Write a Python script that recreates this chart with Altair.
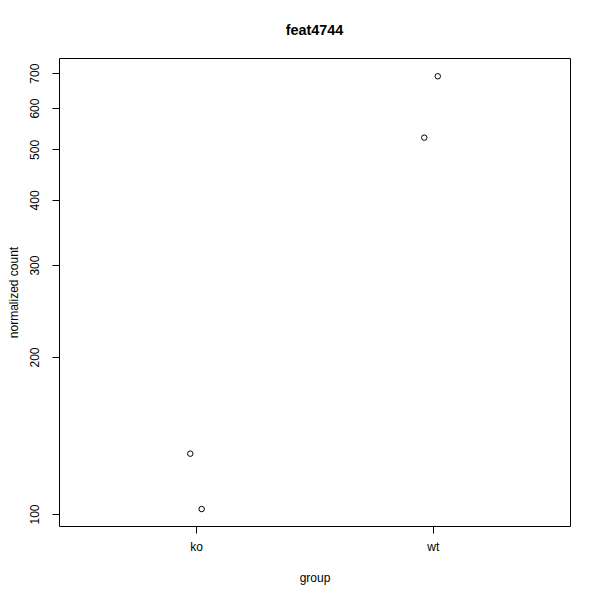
import altair as alt
import pandas as pd

groups = ["ko", "ko", "wt", "wt"]
x_jitter = [0.975, 1.023, 1.964, 2.021]
counts = [130.5, 102.2, 526.6, 690.4]
y_ticks = [100, 200, 300, 400, 500, 600, 700]
x_ticks = [1, 2]
x_labels = ["ko", "wt"]

df = pd.DataFrame({"group": groups, "x": x_jitter, "count": counts})

FONT = "Liberation Sans"
label_expr = "datum.value == 1 ? 'ko' : (datum.value == 2 ? 'wt' : '')"

chart = alt.Chart(df).mark_point(
    shape="circle", filled=False, color="black", size=30, strokeWidth=1, opacity=1
).encode(
    x=alt.X("x:Q",
            scale=alt.Scale(domain=[0.42, 2.58], nice=False, zero=False),
            axis=alt.Axis(values=x_ticks, labelExpr=label_expr, title="group",
                          grid=False, domain=False, tickColor="black", tickSize=7,
                          labelFont=FONT, labelFontSize=12, labelColor="black",
                          labelPadding=8, labelFlush=False,
                          titleFont=FONT, titleFontSize=12, titleFontWeight="normal",
                          titleColor="black", titleY=51, titleBaseline="middle")),
    y=alt.Y("count:Q",
            scale=alt.Scale(type="log", domain=[94.84, 748.4], nice=False, zero=False),
            axis=alt.Axis(values=y_ticks, format="d", title="normalized count",
                          grid=False, domain=False, tickColor="black", tickSize=7,
                          labelAngle=270, labelAlign="center", labelBaseline="bottom",
                          labelFont=FONT, labelFontSize=12, labelColor="black",
                          labelPadding=11, labelFlush=False, labelOverlap=False,
                          titleFont=FONT, titleFontSize=12, titleFontWeight="normal",
                          titleColor="black", titleAngle=270, titleX=-42,
                          titleBaseline="alphabetic")),
).properties(
    width=511,
    height=468,
    title=alt.TitleParams("feat4744", font=FONT, fontSize=14.4, fontWeight="bold",
                          color="black", anchor="middle", offset=20),
    autosize=alt.AutoSizeParams(type="none"),
    padding={"left": 51, "top": 50, "right": 22, "bottom": 66},
).configure(
    background="white"
).configure_view(
    stroke="black", strokeWidth=1, fill="white"
)

chart.save("out.html", embed_options={"renderer": "svg", "actions": False})
